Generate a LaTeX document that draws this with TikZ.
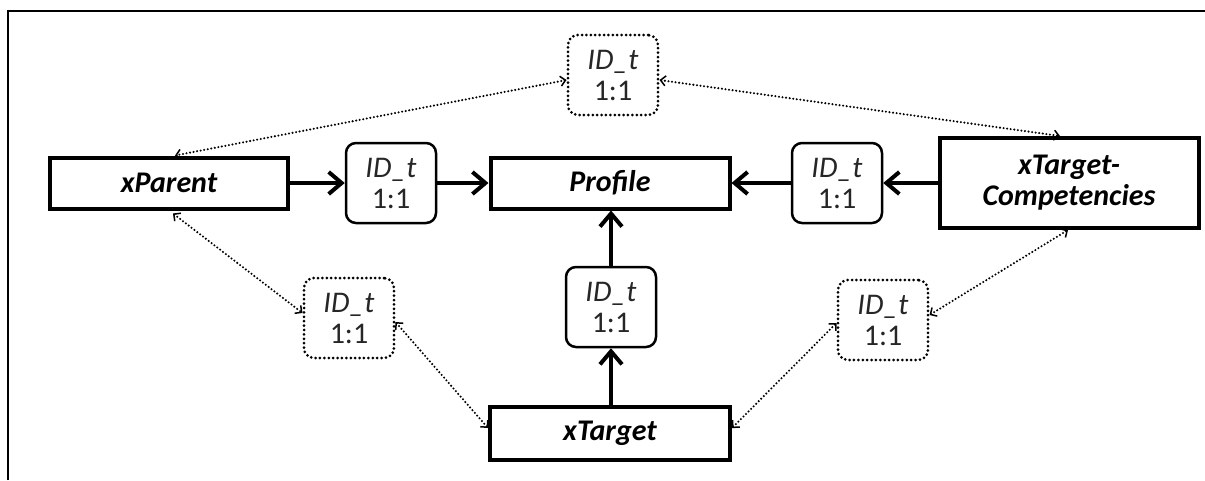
\documentclass[tikz,border=0pt]{standalone}
\usepackage{fontspec}
\setmainfont{Carlito}
\usetikzlibrary{arrows.meta,positioning,calc}
\definecolor{txtgray}{gray}{0.15}
\tikzset{
  entity/.style={draw, line width=4pt, minimum height=51pt, inner sep=0pt,
    font=\fontsize{30}{31}\selectfont\bfseries\itshape, align=center},
  relbox/.style={draw, line width=2.5pt, rounded corners=10pt, minimum width=90pt,
    minimum height=80pt, inner sep=0pt, align=center, text=txtgray,
    font=\fontsize{30}{31}\selectfont},
  dotbox/.style={relbox, line width=3pt, line cap=round, dash pattern=on 0pt off 4.4pt},
  thickarrow/.style={line width=4pt, -{Straight Barb[length=13pt,width=22pt]}},
  dotarrow/.style={line width=2.3pt, line cap=round, dash pattern=on 0pt off 3.6pt,
    {Straight Barb[length=5pt,width=10pt,line width=1.5pt]}-{Straight Barb[length=5pt,width=10pt,line width=1.5pt]}}
}
\begin{document}
\begin{tikzpicture}[x=1pt,y=-1pt]
\useasboundingbox (0,0) rectangle (1205,480);
\draw[line width=2.5pt] (8,480) -- (8,11) -- (1205,11);

\node[entity, minimum width=238pt] (parent) at (169,183) {xParent};
\node[entity, minimum width=239pt] (profile) at (610,183) {Profile};
\node[entity, minimum width=259pt, minimum height=90pt] (xtc) at (1069,183) {xTarget-\\Competencies};
\node[entity, minimum width=240pt, minimum height=53pt] (target) at (610,433) {xTarget};

\node[relbox] (midl) at (391,183) {\textit{ID\_t}\\1:1};
\node[relbox] (midr) at (837,183) {\textit{ID\_t}\\1:1};
\node[relbox] (midv) at (611,307) {\textit{ID\_t}\\1:1};

\node[dotbox] (top) at (613,75) {\textit{ID\_t}\\1:1};
\node[dotbox] (lowl) at (349,318) {\textit{ID\_t}\\1:1};
\node[dotbox] (lowr) at (883,320) {\textit{ID\_t}\\1:1};

\draw[thickarrow] (parent.east) -- (midl.west);
\draw[thickarrow] (midl.east) -- (profile.west);
\draw[thickarrow] (xtc.west) -- (midr.east);
\draw[thickarrow] (midr.west) -- (profile.east);
\draw[thickarrow] (target.north -| midv) -- (midv.south);
\draw[thickarrow] (midv.north) -- (profile.south -| midv);

\draw[dotarrow] ([yshift=-5pt]top.west) -- ([xshift=6pt]parent.north);
\draw[dotarrow] ([yshift=-5pt]top.east) -- ([xshift=-9pt]xtc.north);
\draw[dotarrow] ([xshift=4pt,yshift=-3pt]parent.south) -- ([yshift=5pt]lowl.west);
\draw[dotarrow] ([yshift=-4pt]lowl.east) -- ([yshift=5pt]target.west);
\draw[dotarrow] ([yshift=5pt]target.east) -- ([yshift=-3pt]lowr.west);
\draw[dotarrow] ([yshift=5pt]lowr.east) -- ([xshift=-1pt]xtc.south);
\end{tikzpicture}
\end{document}
